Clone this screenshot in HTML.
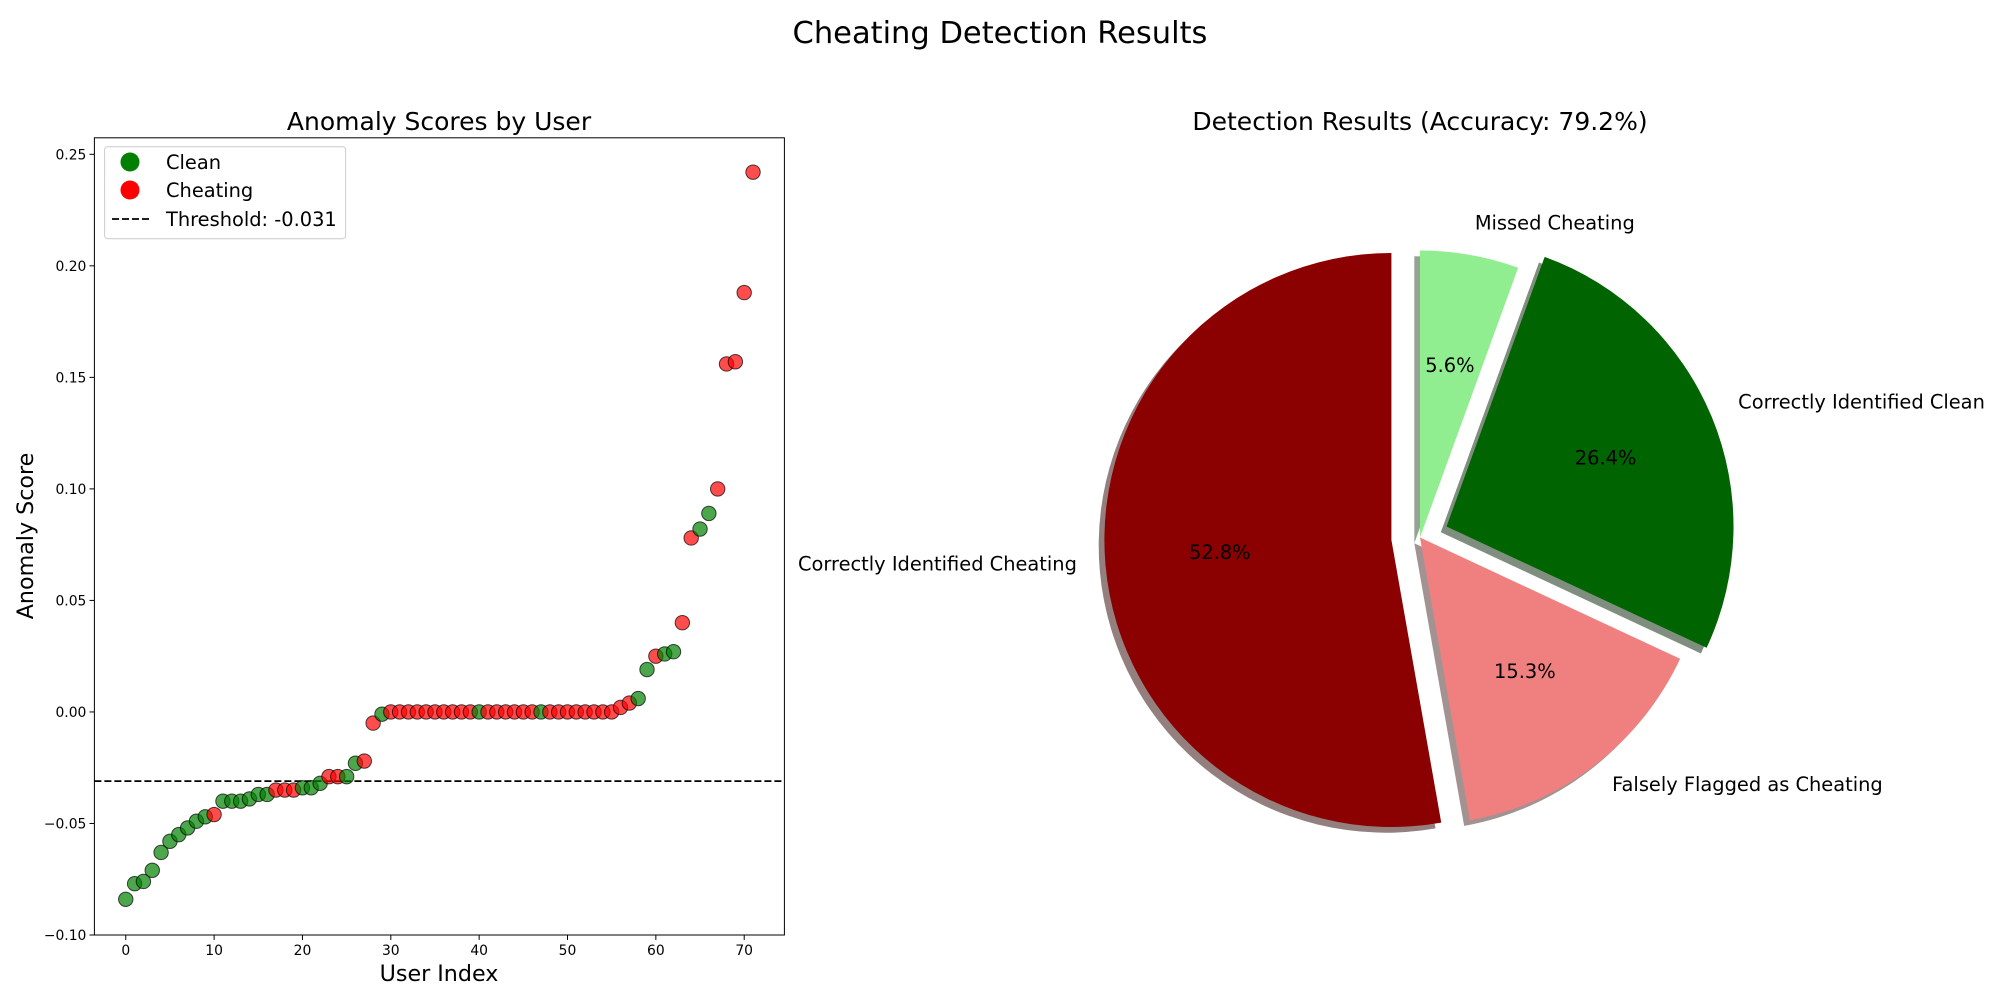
<!DOCTYPE html>
<html><head><meta charset="utf-8">
<style>
html,body{margin:0;padding:0;background:#fff;}
svg{display:block;font-family:"DejaVu Sans","Liberation Sans",sans-serif;}
</style></head>
<body>
<svg id="fig" width="2000" height="1000" viewBox="0 0 2000 1000" xmlns="http://www.w3.org/2000/svg">
<rect width="2000" height="1000" fill="#fff"/>
<text x="1000" y="43" font-size="30.5" text-anchor="middle">Cheating Detection Results</text>
<g id="scatter"></g>
<g id="pie"></g>
</svg>
<script>
const userScores = [-0.084,-0.077,-0.076,-0.071,-0.063,-0.058,-0.055,-0.052,-0.049,-0.047,
-0.046,-0.040,-0.040,-0.040,-0.039,-0.037,-0.037,-0.035,-0.035,-0.035,
-0.034,-0.034,-0.032,-0.029,-0.029,-0.029,-0.023,-0.022,-0.005,-0.001,
0,0,0,0,0,0,0,0,0,0,
0,0,0,0,0,0,0,0,0,0,
0,0,0,0,0,0,0.002,0.004,0.006,0.019,
0.025,0.026,0.027,0.040,0.078,0.082,0.089,0.100,0.156,0.157,
0.188,0.242];
const isCheating = [0,0,0,0,0,0,0,0,0,0,
1,0,0,0,0,0,0,1,1,1,
0,0,0,1,1,0,0,1,1,0,
1,1,1,1,1,1,1,1,1,1,
0,1,1,1,1,1,1,0,1,1,
1,1,1,1,1,1,1,1,0,0,
1,0,0,1,1,0,0,1,1,1,
1,1];
const thresholdValue = -0.031;
const xTicks = [0,10,20,30,40,50,60,70];
const yTicks = [-0.10,-0.05,0.00,0.05,0.10,0.15,0.20,0.25];
const yTickLabels = ["\u22120.10","\u22120.05","0.00","0.05","0.10","0.15","0.20","0.25"];
const pieLabels = ["Correctly Identified Cheating","Falsely Flagged as Cheating","Correctly Identified Clean","Missed Cheating"];
const pieCounts = [38,11,19,4];
const pieExplode = [0.1,0,0.1,0];
const pieColors = ["#8b0000","#f08080","#006400","#90ee90"];

const NS="http://www.w3.org/2000/svg";
function mk(tag,attrs,parent){const e=document.createElementNS(NS,tag);for(const k in attrs)e.setAttribute(k,attrs[k]);parent.appendChild(e);return e;}

// ---------- scatter ----------
const sc=document.getElementById('scatter');
const AX={l:94.4,r:784.4,t:137.8,b:935};
const xMin=-3.55,xMax=74.55,yMin=-0.1,yMax=0.2574;
const X=v=>AX.l+(v-xMin)/(xMax-xMin)*(AX.r-AX.l);
const Y=v=>AX.b-(v-yMin)/(yMax-yMin)*(AX.b-AX.t);

let t=mk('text',{x:439,y:130,'font-size':25,'text-anchor':'middle'},sc);t.textContent='Anomaly Scores by User';



let th=mk('line',{x1:AX.l,x2:AX.r,y1:Y(thresholdValue),y2:Y(thresholdValue),stroke:'#000','stroke-width':1.8,'stroke-dasharray':'7,3'},sc);



userScores.forEach((v,i)=>{
  const c=mk('circle',{cx:X(i),cy:Y(v),r:7.2,fill:isCheating[i]?'#ff0000':'#008000','fill-opacity':0.7,stroke:'#000','stroke-opacity':0.7,'stroke-width':1},sc);
  
  
});

let fr=mk('rect',{x:AX.l,y:AX.t,width:AX.r-AX.l,height:AX.b-AX.t,fill:'none',stroke:'#000','stroke-width':1},sc);



xTicks.forEach(v=>{
  mk('line',{x1:X(v),x2:X(v),y1:AX.b,y2:AX.b+4.9,stroke:'#000','stroke-width':1},sc);
  const l=mk('text',{x:X(v),y:AX.b+20,'font-size':13.9,'text-anchor':'middle'},sc);l.textContent=v;
  
  
});
yTicks.forEach((v,i)=>{
  mk('line',{x1:AX.l-4.9,x2:AX.l,y1:Y(v),y2:Y(v),stroke:'#000','stroke-width':1},sc);
  const l=mk('text',{x:AX.l-8,y:Y(v)+5,'font-size':13.9,'text-anchor':'end'},sc);l.textContent=yTickLabels[i];
  
  
});
t=mk('text',{x:439,y:981,'font-size':22.2,'text-anchor':'middle'},sc);t.textContent='User Index';


t=mk('text',{x:0,y:0,'font-size':22.2,'text-anchor':'middle',transform:'translate(33,536) rotate(-90)'},sc);t.textContent='Anomaly Score';



const lg=mk('g',{},sc);


mk('rect',{x:104.6,y:146.7,width:241,height:92,rx:3,fill:'#fff','fill-opacity':0.8,stroke:'#ccc','stroke-width':1},lg);
const legItems=[['Clean','#008000',162],['Cheating','#ff0000',190],['Threshold: -0.031',null,219]];
legItems.forEach(it=>{
  if(it[1]){mk('circle',{cx:130,cy:it[2],r:9.5,fill:it[1]},lg);}
  else{mk('line',{x1:112,x2:151,y1:it[2],y2:it[2],stroke:'#000','stroke-width':1.8,'stroke-dasharray':'7,3'},lg);}
  const l=mk('text',{x:166,y:it[2]+7,'font-size':19.4},lg);l.textContent=it[0];
  
  
});

// ---------- pie ----------
const pg=document.getElementById('pie');
t=mk('text',{x:1420,y:130,'font-size':25,'text-anchor':'middle'},pg);t.textContent='Detection Results (Accuracy: 79.2%)';


const C={x:1420,y:537.5},R=287;
const total=pieCounts.reduce((a,b)=>a+b,0);
const wedges=[];let ang=90;
pieCounts.forEach((v,i)=>{
  const sweep=v/total*360;const a0=ang,a1=ang+sweep;const mid=(a0+a1)/2*Math.PI/180;
  const cx=C.x+pieExplode[i]*R*Math.cos(mid),cy=C.y-pieExplode[i]*R*Math.sin(mid);
  wedges.push({a0,a1,mid,cx,cy,i,v});ang=a1;
});
function wedgePath(w,dx,dy){
  const r0=w.a0*Math.PI/180,r1=w.a1*Math.PI/180;
  const x0=w.cx+dx+R*Math.cos(r0),y0=w.cy+dy-R*Math.sin(r0);
  const x1=w.cx+dx+R*Math.cos(r1),y1=w.cy+dy-R*Math.sin(r1);
  const large=(w.a1-w.a0)>180?1:0;
  return `M${w.cx+dx},${w.cy+dy} L${x0},${y0} A${R},${R} 0 ${large} 0 ${x1},${y1} Z`;
}
function shade(hex){const n=parseInt(hex.slice(1),16);const r=(n>>16)&255,g=(n>>8)&255,b=n&255;return `rgb(${Math.round(r*0.3)},${Math.round(g*0.3)},${Math.round(b*0.3)})`;}
wedges.forEach(w=>{
  const s=mk('path',{d:wedgePath(w,-5.7,5.7),fill:shade(pieColors[w.i]),'fill-opacity':0.5},pg);
  
  
});
wedges.forEach(w=>{
  const p=mk('path',{d:wedgePath(w,0,0),fill:pieColors[w.i]},pg);
  
  
  const lx=w.cx+1.1*R*Math.cos(w.mid),ly=w.cy-1.1*R*Math.sin(w.mid);
  const l=mk('text',{x:lx,y:ly+3,'font-size':19.4,'text-anchor':Math.cos(w.mid)<0?'end':'start'},pg);l.textContent=pieLabels[w.i];
  
  
  const px=w.cx+0.6*R*Math.cos(w.mid),py=w.cy-0.6*R*Math.sin(w.mid);
  const q=mk('text',{x:px,y:py+4,'font-size':19.4,'text-anchor':'middle'},pg);q.textContent=(w.v/total*100).toFixed(1)+'%';
  
  
});
</script>
</body></html>
